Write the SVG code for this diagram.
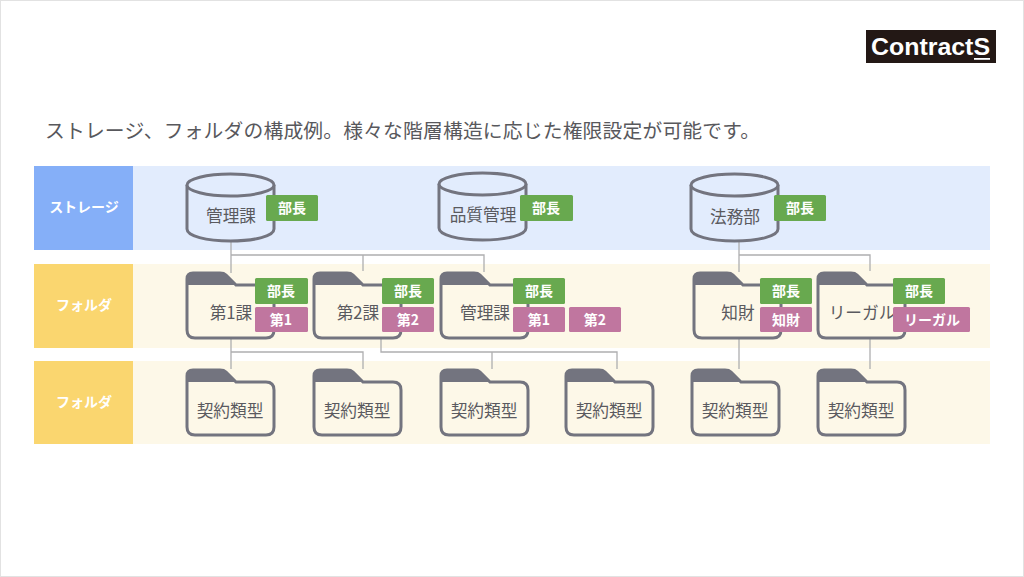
<svg xmlns="http://www.w3.org/2000/svg" width="1024" height="577" viewBox="0 0 1024 577">
<style>
text{font-family:"Noto Sans CJK JP","Noto Sans",sans-serif;text-anchor:middle}
.n{font-size:16.700px;fill:#5a5a5f}
.b{font-size:14px;font-weight:700;fill:#fff}
.g{fill:#68a94f}
.p{fill:#c0769f}
.l{font-size:14px;font-weight:700;fill:#fff}
.c{fill:none;stroke:#aeaeb0;stroke-width:1.300}
</style>
<defs>
<g id="cyl">
<path d="M0 12V56C0 63 19 68 43.500 68S87 63 87 56V12" fill="#e2ecfd" stroke="#73747f" stroke-width="3"/>
<ellipse cx="43.500" cy="12" rx="43.500" ry="11" fill="#e2ecfd" stroke="#73747f" stroke-width="3"/>
</g>
<g id="fol">
<path d="M0 6V57Q0 65 8 65H79Q87 65 87 57V20Q87 12 79 12H49L39 2Q37 0 33 0H6Q0 0 0 6Z" fill="#fdf8e8" stroke="#73747f" stroke-width="3"/>
<path d="M0 6Q0 0 6 0H33Q37 0 39 2L49 12H0Z" fill="#73747f"/>
</g>
</defs>
<rect x="0.500" y="0.500" width="1023" height="576" fill="#fff" stroke="#e2e2e2"/>
<g id="logo">
<rect x="866" y="30" width="130" height="33" fill="#231815"/>
<text x="930.500" y="54.500" style="font-family:'Liberation Sans',sans-serif;font-size:24px;font-weight:700" fill="#fff" textLength="119" lengthAdjust="spacingAndGlyphs">ContractS</text>
<rect x="974" y="58" width="16" height="1.800" fill="#fff"/>
</g>
<text x="45" y="138" style="text-anchor:start;font-size:19.800px" fill="#58585c" textLength="715">ストレージ、フォルダの構成例。様々な階層構造に応じた権限設定が可能です。</text>
<g id="bands">
<rect x="133" y="166" width="857" height="84" fill="#e2ecfd"/>
<rect x="133" y="264" width="857" height="84" fill="#fdf8e8"/>
<rect x="133" y="361" width="857" height="83" fill="#fdf8e8"/>
</g>
<g id="row-storage"><rect x="34" y="166" width="99" height="84" fill="#85aff8"/><text class="l" x="84" y="212">ストレージ</text></g>
<g id="row-folder-1"><rect x="34" y="264" width="99" height="84" fill="#fad66f"/><text class="l" x="84" y="310">フォルダ</text></g>
<g id="row-folder-2"><rect x="34" y="361" width="99" height="83" fill="#fad66f"/><text class="l" x="84" y="407">フォルダ</text></g>
<g id="connectors">
<path class="c" d="M231 241V273M231 255H484V272M363 255V271"/>
<path class="c" d="M739 241V272M739 255H870V271"/>
<path class="c" d="M231 339V369M231 352H363V369"/>
<path class="c" d="M381 339V352H617V369M492 352V369"/>
<path class="c" d="M739 339V369M870 339V369"/>
</g>
<g id="s1"><use href="#cyl" x="187" y="173"/><text class="n" x="231" y="222">管理課</text><rect class="g" x="266" y="195" width="52" height="26" rx="1.500"/><text class="b" x="292" y="213">部長</text></g>
<g id="s2"><use href="#cyl" x="439" y="172"/><text class="n" x="483" y="221">品質管理</text><rect class="g" x="520" y="195" width="53" height="26" rx="1.500"/><text class="b" x="546" y="213">部長</text></g>
<g id="s3"><use href="#cyl" x="691" y="173"/><text class="n" x="735" y="223">法務部</text><rect class="g" x="774" y="195" width="52" height="26" rx="1.500"/><text class="b" x="800" y="213">部長</text></g>
<g id="f1"><use href="#fol" x="187" y="273"/><text class="n" x="231" y="319">第1課</text><rect class="g" x="255" y="278" width="53" height="26" rx="1.500"/><text class="b" x="281" y="296">部長</text><rect class="p" x="255" y="307" width="53" height="25" rx="1.500"/><text class="b" x="281" y="325">第1</text></g>
<g id="f2"><use href="#fol" x="314" y="273"/><text class="n" x="358" y="319">第2課</text><rect class="g" x="382" y="278" width="52" height="26" rx="1.500"/><text class="b" x="408" y="296">部長</text><rect class="p" x="382" y="307" width="52" height="25" rx="1.500"/><text class="b" x="408" y="325">第2</text></g>
<g id="f3"><use href="#fol" x="441" y="273"/><text class="n" x="485" y="319">管理課</text><rect class="g" x="513" y="278" width="52" height="26" rx="1.500"/><text class="b" x="539" y="296">部長</text><rect class="p" x="513" y="307" width="52" height="25" rx="1.500"/><text class="b" x="539" y="325">第1</text><rect class="p" x="569" y="307" width="52" height="25" rx="1.500"/><text class="b" x="595" y="325">第2</text></g>
<g id="f4"><use href="#fol" x="694" y="273"/><text class="n" x="738" y="319">知財</text><rect class="g" x="760" y="278" width="52" height="26" rx="1.500"/><text class="b" x="786" y="296">部長</text><rect class="p" x="760" y="307" width="52" height="25" rx="1.500"/><text class="b" x="786" y="325">知財</text></g>
<g id="f5"><use href="#fol" x="818" y="273"/><text class="n" x="862" y="319">リーガル</text><rect class="g" x="893" y="278" width="52" height="26" rx="1.500"/><text class="b" x="919" y="296">部長</text><rect class="p" x="893" y="307" width="77" height="25" rx="1.500"/><text class="b" x="932" y="325">リーガル</text></g>
<g id="t1"><use href="#fol" x="187" y="370"/><text class="n" x="230" y="417">契約類型</text></g>
<g id="t2"><use href="#fol" x="314" y="370"/><text class="n" x="357" y="417">契約類型</text></g>
<g id="t3"><use href="#fol" x="441" y="370"/><text class="n" x="484" y="417">契約類型</text></g>
<g id="t4"><use href="#fol" x="566" y="370"/><text class="n" x="609" y="417">契約類型</text></g>
<g id="t5"><use href="#fol" x="692" y="370"/><text class="n" x="735" y="417">契約類型</text></g>
<g id="t6"><use href="#fol" x="818" y="370"/><text class="n" x="861" y="417">契約類型</text></g>
</svg>
